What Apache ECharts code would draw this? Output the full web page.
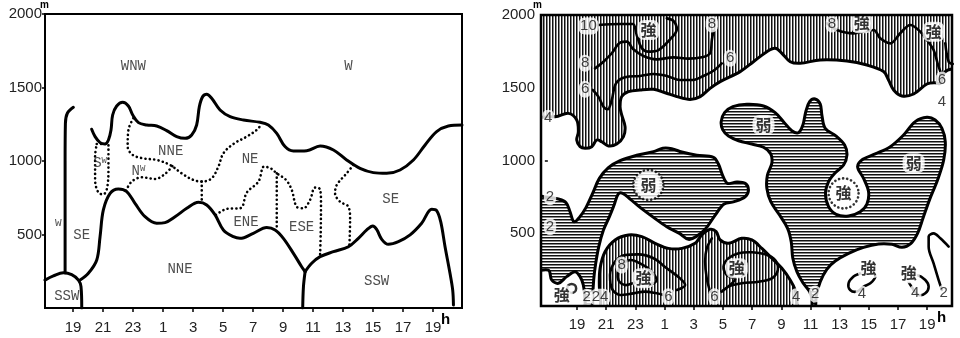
<!DOCTYPE html>
<html><head><meta charset="utf-8">
<script src="https://cdn.jsdelivr.net/npm/echarts@6/dist/echarts.min.js"></script>
<style>html,body{margin:0;padding:0;background:#fff}#c{width:960px;height:338px}</style>
</head><body><div id="c"></div>
<script>
// x = hours elapsed since 17h (t=2 -> 19h, t=8 -> 1h, t=26 -> 19h next day); y = height (m)
const START_HOUR = 17;
const xTickHours = [2,4,6,8,10,12,14,16,18,20,22,24,26];
const yTickHeights = [500,1000,1500,2000];

// ---------- LEFT PANEL: wind direction boundaries ----------
const L_sswDome = [[0.13,190],[0.69,218],[1.36,240],[1.91,227],[2.36,190],[2.53,145],[2.58,0]];
const L_wSeLine = [[1.47,240],[1.47,700],[1.47,1000],[1.49,1256],[1.62,1325],[2.02,1365]];
const L_lower = [[2.47,190],[3.02,236],[3.58,327],[3.80,485],[4.02,667],[4.47,780],[5.02,810],[5.58,792],[6.13,712],[6.80,621],[7.58,576],[8.13,581],[8.80,621],[9.58,678],[10.36,719],[10.91,701],[11.47,633],[12.02,531],[12.69,485],[13.13,474],[14.02,508],[14.91,547],[15.47,531],[16.02,474],[16.69,372],[17.24,281],[17.47,247]];
const L_lowerDrop = [[17.47,247],[17.36,145],[17.31,0]];
const L_sswRight = [[17.47,247],[17.91,304],[18.47,349],[19.36,383],[20.36,417],[21.02,474],[21.58,531],[21.98,558],[22.24,535],[22.58,467],[23.02,433],[23.69,451],[24.47,497],[25.24,576],[25.91,671],[26.24,662],[26.51,587],[26.80,417],[27.13,236],[27.31,122],[27.36,20]];
const L_upper = [[3.24,1216],[3.47,1166],[3.80,1125],[4.13,1116],[4.36,1143],[4.53,1211],[4.64,1313],[4.91,1374],[5.31,1399],[5.69,1374],[5.98,1313],[6.36,1261],[6.91,1245],[7.58,1238],[8.24,1207],[8.91,1166],[9.47,1154],[9.91,1177],[10.24,1245],[10.42,1370],[10.64,1438],[10.91,1454],[11.24,1427],[11.80,1347],[12.47,1302],[13.36,1279],[14.47,1263],[15.02,1245],[15.58,1188],[16.13,1098],[16.69,1068],[17.58,1070],[18.47,1102],[19.36,1075],[20.24,1007],[21.13,950],[22.02,921],[22.91,916],[23.80,939],[24.69,1007],[25.47,1109],[26.24,1200],[27.02,1238],[27.93,1245]];
const L_dotSW = [[3.58,1116],[4.36,1116],[4.36,962],[4.29,826],[4.02,773],[3.69,785],[3.47,871],[3.47,1030],[3.58,1116]];
const L_dotNNE = [[6.02,1291],[5.69,1211],[5.64,1098],[5.98,1041],[6.69,1018],[7.58,1007],[8.47,973],[9.24,916],[10.02,871],[10.58,860],[11.24,882],[11.69,962],[12.02,1052],[12.69,1116],[13.58,1166],[14.24,1211],[14.58,1252]];
const L_dotNW = [[5.53,798],[5.91,860],[6.58,889],[7.47,878],[8.13,912],[8.69,973]];
const L_dotV1 = [[10.58,860],[10.58,730]];
const L_dotENE = [[11.53,633],[12.24,674],[13.18,680],[13.58,785],[14.36,860],[14.73,962],[15.18,950],[15.58,916],[16.20,871],[16.58,803],[16.91,689],[17.36,678],[17.80,735],[18.13,819],[18.47,807],[18.53,712],[18.51,508],[18.47,361]];
const L_dotV2 = [[15.58,916],[15.58,531]];
const L_dotSE = [[20.69,973],[20.24,916],[19.58,837],[19.47,780],[19.80,723],[20.36,689],[20.47,599],[20.42,422]];
const L_labels = [['WNW',6.02,1642],['W',20.36,1642],['NNE',8.51,1064],['S{s|W}',3.80,984],['N{s|W}',6.36,928],['NE',13.80,1014],['{m|W}',1.02,576],['SE',2.58,497],['ENE',13.53,581],['ESE',17.24,547],['SE',23.18,739],['NNE',9.13,263],['SSW',1.58,77],['SSW',22.24,179]];

// ---------- RIGHT PANEL: wind speed regions (m/s) ----------
const R_strongTop = [[-1.5,2100],[28.5,2100],[28.5,1680],[28.0,1640],[27.24,1611],[26.90,1530],[26.55,1535],[25.98,1526],[25.07,1457],[24.27,1443],[23.70,1485],[23.35,1553],[23.01,1611],[21.87,1656],[20.50,1684],[18.67,1691],[17.29,1668],[16.61,1679],[16.04,1737],[15.58,1771],[15.01,1748],[14.09,1679],[13.18,1611],[11.81,1542],[11.12,1496],[10.44,1439],[9.75,1420],[8.84,1439],[8.04,1466],[7.24,1489],[6.32,1485],[5.52,1473],[5.06,1439],[4.95,1370],[5.06,1313],[5.29,1233],[5.18,1164],[4.72,1113],[4.15,1100],[3.69,1129],[3.35,1141],[3.01,1095],[2.55,1084],[2.21,1095],[1.98,1141],[2.09,1198],[1.98,1278],[1.41,1324],[0.49,1301],[-1.5,1336]];
const R_weakLeft = [[-1.5,751],[0.03,747],[0.72,735],[1.25,710],[1.52,648],[1.79,580],[2.16,609],[2.62,678],[3.07,774],[3.53,877],[4.15,951],[4.95,999],[6.09,1036],[7.24,1061],[7.88,1084],[8.49,1081],[9.18,1058],[10.21,1036],[11.35,1022],[11.69,976],[11.97,900],[12.31,843],[12.95,852],[13.52,843],[13.75,797],[13.52,751],[12.77,717],[12.08,701],[11.47,625],[10.78,527],[10.16,477],[9.64,458],[9.02,499],[8.15,545],[7.24,609],[6.32,678],[5.64,735],[5.13,774],[4.83,770],[4.54,694],[4.22,614],[3.81,522],[3.49,408],[3.28,293],[3.14,179],[3.07,41],[3.07,-96],[2.62,-96],[2.55,41],[2.43,144],[2.21,202],[1.86,236],[1.29,202],[0.72,156],[0.26,179],[0.03,247],[-1.5,247]];
const R_strongBottom = [[3.69,-96],[3.62,30],[3.53,133],[3.58,259],[3.92,373],[4.61,454],[5.52,488],[6.44,477],[7.35,431],[8.26,396],[9.18,396],[10.09,431],[10.55,488],[11.12,527],[11.53,511],[11.81,454],[12.38,431],[13.29,465],[13.98,454],[14.67,396],[15.35,328],[16.04,259],[16.61,179],[16.95,110],[17.07,30],[17.07,-96]];
const R_weakRight = [[18.32,-96],[18.39,64],[18.67,167],[19.12,252],[19.70,309],[20.61,362],[21.64,403],[22.67,426],[23.58,424],[24.27,403],[24.89,431],[25.34,499],[25.71,603],[26.17,733],[26.71,866],[27.13,1003],[27.24,1129],[27.01,1221],[26.55,1278],[25.98,1297],[25.18,1267],[24.38,1175],[23.47,1095],[22.44,1045],[21.59,1008],[21.23,958],[21.64,877],[21.98,786],[21.87,701],[21.41,648],[20.61,619],[19.76,630],[19.24,683],[19.03,774],[19.24,855],[19.70,916],[20.27,969],[20.50,1038],[20.34,1107],[19.76,1168],[19.01,1221],[18.78,1313],[18.67,1388],[18.32,1423],[17.94,1404],[17.68,1336],[17.48,1244],[17.18,1191],[16.72,1205],[16.15,1267],[15.58,1329],[14.78,1375],[13.64,1386],[12.68,1370],[12.11,1329],[11.88,1267],[11.99,1210],[12.38,1168],[13.07,1136],[13.98,1113],[14.78,1091],[15.28,1045],[15.35,981],[15.05,900],[15.01,809],[15.28,717],[15.88,625],[16.43,534],[16.68,442],[16.79,328],[17.07,236],[17.48,160],[17.94,99],[18.10,41],[18.10,-96]];
// contour lines
const R_c10 = [[3.46,1931],[4.95,1938],[5.82,1938],[6.09,1863],[6.44,1771],[6.89,1748],[7.58,1759],[8.38,1833],[8.84,1902],[8.61,1959],[8.15,1977]];
const R_c8Top = [[3.23,1633],[3.81,1679],[4.38,1737],[4.95,1810],[5.41,1817],[5.86,1764],[6.55,1718],[7.46,1695],[8.61,1709],[9.64,1700],[10.55,1709],[11.12,1737],[11.24,1828],[11.35,1892]];
const R_c6Top = [[3.07,1485],[3.46,1439],[3.81,1370],[4.10,1352],[4.38,1416],[4.67,1530],[5.29,1572],[6.32,1581],[7.24,1595],[8.15,1581],[9.06,1553],[9.86,1553],[10.66,1581],[11.35,1617],[11.92,1668]];
const R_c6TopRight = [[19.12,1943],[19.81,1897],[20.95,1874],[22.32,1897],[22.78,1840],[23.47,1805],[24.15,1874],[24.84,1931],[25.53,1885],[25.98,1828],[26.44,1759],[26.78,1645],[27.01,1588]];
const R_cEdge = [[27.24,1805],[27.47,1679],[27.75,1663]];
const R_c6BotA = [[8.84,110],[9.41,144],[9.06,190],[8.15,259],[7.24,328],[6.21,355],[5.29,351],[4.61,305],[4.26,213],[4.38,121],[4.95,76],[5.86,87],[6.66,99],[7.46,87],[7.92,76]];
const R_c8Loop = [[5.64,316],[4.95,270],[4.83,179],[5.29,144],[6.09,163],[7.01,149],[7.46,179],[7.01,247],[6.32,293]];
const R_c6BotB = [[11.24,465],[10.89,396],[10.78,305],[10.89,190],[11.12,99]];
const R_c6Loop = [[11.92,99],[12.38,133],[13.29,156],[14.44,167],[15.35,190],[15.76,247],[15.58,316],[14.89,355],[13.98,369],[13.07,362],[12.38,328],[12.04,270],[12.27,213],[12.84,183]];
const R_c4BlobA = [[21.41,225],[20.95,202],[20.61,156],[20.72,110],[21.18,99],[21.64,133],[22.10,156],[22.44,202],[22.21,236],[21.87,247]];
const R_c4BlobB = [[24.61,202],[25.30,213],[25.87,179],[26.10,133],[25.87,87],[25.41,76],[25.07,110]];
const R_c2Hook = [[27.47,408],[26.90,465],[26.44,499],[26.10,477],[26.10,408],[26.44,293],[26.78,179],[27.01,110]];
const R_smallRing = [[1.63,121]];
const R_dotRings = [[20.27,774],[6.89,832]];
const R_labels = [['10',2.78,1924],['強',6.89,1897],['8',11.24,1938],['8',2.55,1668],['6',2.55,1489],['6',12.49,1702],['4',0.03,1290],
  ['8',19.47,1938],['強',21.52,1943],['強',26.44,1885],['6',27.01,1553],['4',27.01,1404],
  ['弱',14.78,1244],['弱',6.89,832],['弱',25.07,981],['強',20.27,774],
  ['2',0.15,751],['2',0.15,545],['強',0.95,76],['2',2.66,60],['24',3.58,60],
  ['8',5.06,282],['強',6.55,190],['6',8.26,64],['6',11.42,64],['強',12.95,259],['4',17.02,64],['2',18.32,82],
  ['強',21.98,259],['4',21.52,82],['強',24.73,225],['4',25.18,87],['2',27.13,87]];

function hourLabel(v){ return String((START_HOUR + Math.round(v)) % 24); }
function heightLabel(v){ return String(v); }
function hatch(vertical){
  const c = document.createElement('canvas'); c.width = 3; c.height = 3;
  const g = c.getContext('2d'); g.fillStyle = '#fff'; g.fillRect(0,0,3,3);
  g.fillStyle = '#111';
  if (vertical) g.fillRect(0,0,1.5,3); else g.fillRect(0,0,3,1.5);
  return {image: c, repeat: 'repeat'};
}
const VERT = hatch(true), HORZ = hatch(false);

function polySeries(pts, gi, fill, lw, z){
  return {type:'custom', xAxisIndex:gi, yAxisIndex:gi, clip:true, silent:true, z:z, data:pts,
    renderItem:function(params, api){
      if (params.dataIndex !== 0) return null;
      return {type:'polygon', shape:{points: pts.map(p => api.coord(p)), smooth:0.35},
        style:{fill: fill || 'none', stroke:'#000', lineWidth: lw, lineJoin:'round'}};
    }};
}
function lineSeries(pts, gi, lw, dotted, z){
  return {type:'line', xAxisIndex:gi, yAxisIndex:gi, data:pts, symbol:'none', showSymbol:false,
    smooth:0.35, silent:true, z:z||4,
    lineStyle:{color:'#000', width:lw, type: dotted ? [0.1,4.3] : 'solid', cap:'round', join:'round'}};
}
function textSeries(items, gi, lab){
  return {type:'scatter', xAxisIndex:gi, yAxisIndex:gi, symbolSize:1, itemStyle:{color:'rgba(0,0,0,0)'},
    silent:true, z:20, data: items.map(d => ({name:d[0], value:[d[1], d[2]]})),
    label:Object.assign({show:true, position:'inside', formatter:p => p.name}, lab)};
}
const axisLab = {fontSize:15, color:'#222', fontFamily:'Liberation Sans'};
function xAx(gi, min, max, margin){
  return {gridIndex:gi, type:'value', min:min, max:max, axisLine:{show:false}, splitLine:{show:false},
    axisTick:{show:true, customValues:xTickHours, length:4, lineStyle:{color:'#000', width:1.5}},
    axisLabel:Object.assign({customValues:xTickHours, formatter:hourLabel, margin:margin}, axisLab)};
}
function yAx(gi, margin){
  return {gridIndex:gi, type:'value', min:0, max:2000, axisLine:{show:false}, splitLine:{show:false},
    axisTick:{show:true, customValues:yTickHeights, length:3, lineStyle:{color:'#000', width:1.5}},
    axisLabel:Object.assign({customValues:yTickHeights, formatter:heightLabel, margin:margin}, axisLab)};
}

const chart = echarts.init(document.getElementById('c'), null, {renderer:'canvas'});
const series = [];
// left panel
[L_sswDome, L_wSeLine, L_lower, L_lowerDrop, L_sswRight, L_upper].forEach(a => series.push(lineSeries(a, 0, 3, false)));
[L_dotSW, L_dotNNE, L_dotNW, L_dotV1, L_dotENE, L_dotV2, L_dotSE].forEach(a => series.push(lineSeries(a, 0, 2.6, true)));
series.push(textSeries(L_labels, 0, {fontSize:14, color:'#222', fontFamily:'Liberation Mono',
  rich:{s:{fontSize:9, fontFamily:'Liberation Mono', color:'#222', padding:[0,0,6,0]},
        m:{fontSize:11, fontFamily:'Liberation Mono', color:'#222'}}}));
// right panel
series.push(polySeries(R_strongTop, 1, VERT, 3, 2));
series.push(polySeries(R_weakLeft, 1, HORZ, 3, 2));
series.push(polySeries(R_strongBottom, 1, VERT, 3, 2));
series.push(polySeries(R_weakRight, 1, HORZ, 3, 2));
[R_c10, R_c8Top, R_c6Top, R_c6TopRight, R_cEdge, R_c6BotA, R_c6BotB, R_c2Hook].forEach(a => series.push(lineSeries(a, 1, 2.6, false, 4)));
[R_c8Loop, R_c6Loop, R_c4BlobA, R_c4BlobB].forEach(a => series.push(polySeries(a, 1, null, 2.6, 4)));
series.push({type:'scatter', xAxisIndex:1, yAxisIndex:1, data:R_smallRing, symbol:'circle', symbolSize:9, silent:true, z:6,
  itemStyle:{color:'#fff', borderColor:'#000', borderWidth:2.5}});
series.push({type:'scatter', xAxisIndex:1, yAxisIndex:1, data:R_dotRings, symbol:'circle', symbolSize:30, silent:true, z:6,
  itemStyle:{color:'#fff', borderColor:'#000', borderWidth:2.6, borderType:[0.1,4], borderCap:'round'}});
const rightText = textSeries(R_labels, 1, {fontSize:15, color:'#111', fontFamily:'Liberation Sans',
  backgroundColor:'#fff', borderRadius:7, padding:[1,2]});
rightText.label.formatter = p => /[強弱]/.test(p.name) ? '{k|' + p.name + '}' : p.name;
rightText.label.rich = {k:{fontSize:16, fontWeight:'bold', color:'#000', fontFamily:'Noto Sans CJK JP', backgroundColor:'#fff', borderRadius:9, padding:[1,1]}};
series.push(rightText);

chart.setOption({
  animation:false,
  backgroundColor:'#fff',
  grid:[
    {left:45, top:14, width:417, height:294, show:true, borderColor:'#000', borderWidth:2, z:30},
    {left:541, top:15, width:411, height:291, show:true, borderColor:'#000', borderWidth:2.5, z:30}
  ],
  xAxis:[xAx(0, 0.13, 27.93, 12), xAx(1, -0.47, 27.70, 11)],
  yAxis:[yAx(0, 3), yAx(1, 6)],
  graphic:[
    {type:'text', left:40, top:0, style:{text:'m', font:'bold 10px Liberation Sans', fill:'#000'}},
    {type:'text', left:441, top:312, style:{text:'h', font:'bold 15px Liberation Sans', fill:'#000'}},
    {type:'text', left:533, top:0, style:{text:'m', font:'bold 10px Liberation Sans', fill:'#000'}},
    {type:'text', left:937, top:310, style:{text:'h', font:'bold 15px Liberation Sans', fill:'#000'}}
  ],
  series:series
});
</script></body></html>
